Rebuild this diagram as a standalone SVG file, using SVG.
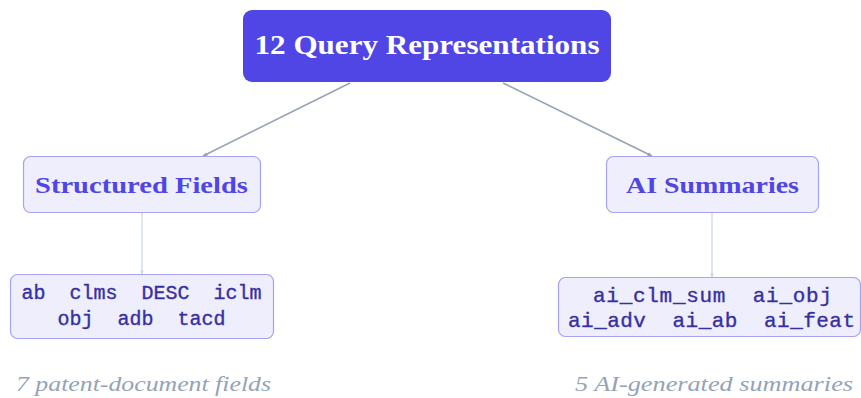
<svg xmlns="http://www.w3.org/2000/svg" width="861" height="398" viewBox="0 0 861 398">
<defs>
<style>
.root{fill:#4F46E5}
.sub{fill:#EEEEFC;stroke:#A7A2F2;stroke-width:1.2}
.t1{font-family:"Liberation Serif",serif;font-weight:bold;fill:#FFFFFF;font-size:28px;text-anchor:middle}
.t2{font-family:"Liberation Serif",serif;font-weight:bold;fill:#4F46E5;font-size:24px;text-anchor:middle}
.mono{font-family:"Liberation Mono",monospace;fill:#3730A3;font-size:20px;text-anchor:middle;white-space:pre;stroke:#3730A3;stroke-width:0.35}
.mono2{font-size:21px}
.cap{font-family:"Liberation Serif",serif;font-style:italic;fill:#94A3B8;font-size:22px}
.c1{stroke:#94A3B8;stroke-width:1.6;fill:none}
.c2{stroke:#CBD5E1;stroke-width:1.2;fill:none}
</style>
<marker id="a1" viewBox="0 0 10 10" refX="9" refY="5" markerWidth="5" markerHeight="5" orient="auto" markerUnits="userSpaceOnUse"><path d="M0,1 L10,5 L0,9 z" fill="#94A3B8"/></marker>
<marker id="a2" viewBox="0 0 10 10" refX="9" refY="5" markerWidth="4" markerHeight="4" orient="auto" markerUnits="userSpaceOnUse"><path d="M0,1 L10,5 L0,9 z" fill="#CBD5E1"/></marker>
</defs>
<g id="connectors">
<line class="c1" x1="350" y1="83" x2="203" y2="156" marker-end="url(#a1)"/>
<line class="c1" x1="503" y1="83" x2="652" y2="156" marker-end="url(#a1)"/>
<line class="c2" x1="142" y1="213" x2="142" y2="274" marker-end="url(#a2)"/>
<line class="c2" x1="712" y1="213" x2="712" y2="277" marker-end="url(#a2)"/>
</g>
<g id="root">
<rect class="root" x="243" y="10" width="368" height="72" rx="9"/>
<text class="t1" x="427" y="54" textLength="345" lengthAdjust="spacingAndGlyphs">12 Query Representations</text>
</g>
<g id="structured">
<rect class="sub" x="23.5" y="156.5" width="237" height="56" rx="7"/>
<text class="t2" x="141.5" y="193" textLength="213" lengthAdjust="spacingAndGlyphs">Structured Fields</text>
</g>
<g id="ai">
<rect class="sub" x="606.5" y="156.5" width="212" height="56" rx="7"/>
<text class="t2" x="712.5" y="193" textLength="173" lengthAdjust="spacingAndGlyphs">AI Summaries</text>
</g>
<g id="fields">
<rect class="sub" x="10.5" y="274.5" width="263" height="64" rx="7"/>
<text class="mono" x="141.5" y="299" xml:space="preserve">ab  clms  DESC  iclm</text>
<text class="mono" x="141.5" y="325" xml:space="preserve">obj  adb  tacd</text>
</g>
<g id="summaries">
<rect class="sub" x="558.5" y="277.5" width="302" height="59" rx="7"/>
<text class="mono mono2" x="712.5" y="302" textLength="239" lengthAdjust="spacing" xml:space="preserve">ai_clm_sum  ai_obj</text>
<text class="mono mono2" x="711.5" y="327" textLength="287" lengthAdjust="spacing" xml:space="preserve">ai_adv  ai_ab  ai_feat</text>
</g>
<g id="captions">
<text class="cap" x="16" y="391" textLength="255" lengthAdjust="spacingAndGlyphs">7 patent-document fields</text>
<text class="cap" x="575" y="391" textLength="278" lengthAdjust="spacingAndGlyphs">5 AI-generated summaries</text>
</g>
</svg>
